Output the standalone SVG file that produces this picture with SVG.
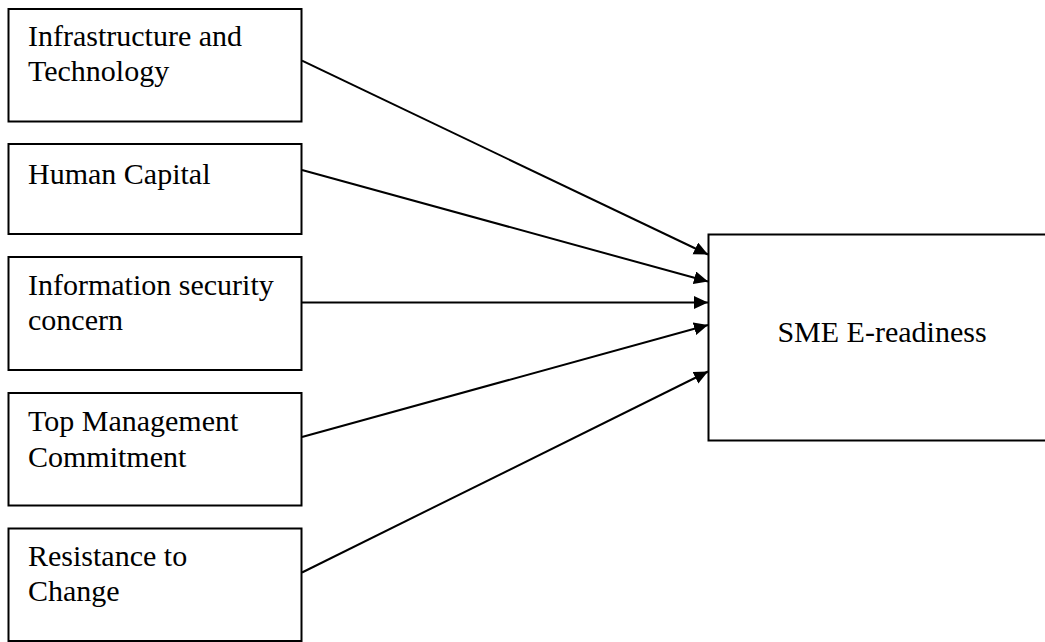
<svg xmlns="http://www.w3.org/2000/svg" width="1045" height="642" viewBox="0 0 1045 642">
<style>
.box{fill:#fff;stroke:#000;stroke-width:2}
.t{font-family:"Liberation Serif","Times New Roman",serif;font-size:30px;fill:#000}
.c{stroke:#000;stroke-width:2;fill:none;marker-end:url(#ah)}
</style>
<defs>
<marker id="ah" markerUnits="userSpaceOnUse" markerWidth="16" markerHeight="14" refX="14" refY="6.5" orient="auto">
<path d="M0,0 L14,6.5 L0,13 Z" fill="#000"/>
</marker>
</defs>
<rect width="1045" height="642" fill="#fff"/>
<g id="n1"><rect class="box" x="8.5" y="9" width="293" height="112.5"/><text class="t" x="28" y="45.5">Infrastructure and</text><text class="t" x="28" y="81">Technology</text></g>
<g id="n2"><rect class="box" x="8.5" y="144" width="293" height="90"/><text class="t" x="28" y="184">Human Capital</text></g>
<g id="n3"><rect class="box" x="8.5" y="257" width="293" height="113"/><text class="t" x="28" y="295">Information security</text><text class="t" x="28" y="330">concern</text></g>
<g id="n4"><rect class="box" x="8.5" y="393" width="293" height="112.5"/><text class="t" x="28" y="430.5">Top Management</text><text class="t" x="28" y="466.5">Commitment</text></g>
<g id="n5"><rect class="box" x="8.5" y="528.5" width="293" height="112.5"/><text class="t" x="28" y="566">Resistance to</text><text class="t" x="28" y="601">Change</text></g>
<g id="n6"><rect class="box" x="708.5" y="234.5" width="345" height="206"/><text class="t" x="882" y="341.5" text-anchor="middle">SME E-readiness</text></g>
<g id="connectors">
<line class="c" x1="302" y1="60.7" x2="708" y2="254.5"/>
<line class="c" x1="302" y1="170" x2="708" y2="281.5"/>
<line class="c" x1="302" y1="302.5" x2="708" y2="302.5"/>
<line class="c" x1="302" y1="437" x2="708" y2="325"/>
<line class="c" x1="302" y1="572.5" x2="708" y2="371.5"/>
</g>
</svg>
